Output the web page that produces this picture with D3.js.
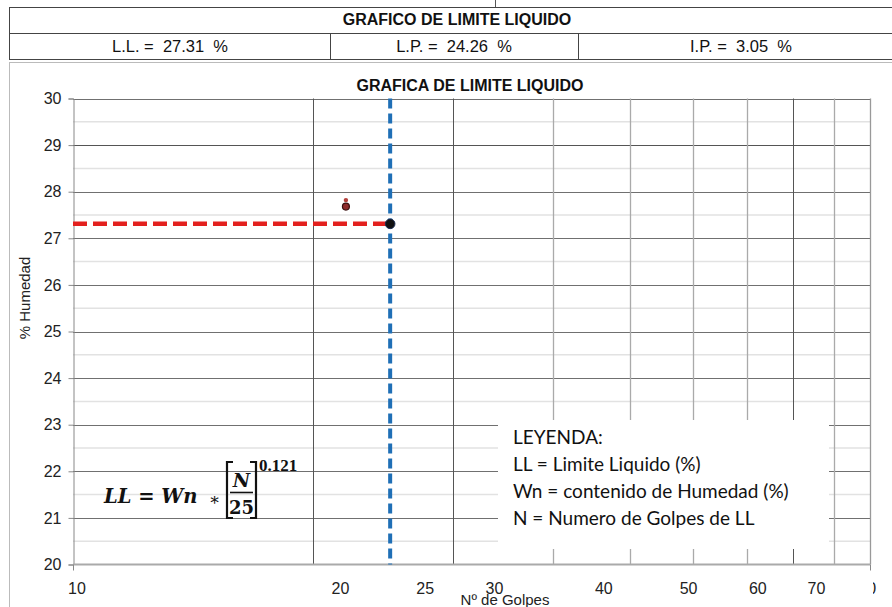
<!DOCTYPE html>
<html><head><meta charset="utf-8">
<script src="https://cdn.jsdelivr.net/npm/d3@7/dist/d3.min.js"></script>
<style>body{margin:0;background:#fff}svg{display:block}</style>
</head><body>
<script>
// ---- data ----
const headerTitle = "GRAFICO DE LIMITE LIQUIDO";
const chartTitle = "GRAFICA DE LIMITE LIQUIDO";
const summaryLabels = ["L.L.", "L.P.", "I.P."];
const summaryValues = ["27.31", "24.26", "3.05"];
const yTickValues = [20, 21, 22, 23, 24, 25, 26, 27, 28, 29, 30];
const yMinorValues = [20.5, 21.5, 22.5, 23.5, 24.5, 25.5, 26.5, 27.5, 28.5, 29.5];
const xGridValues = [20, 30, 40, 50, 60, 70, 80, 90, 100];
const xLabelValues = [10, 20, 25, 30, 40, 50, 60, 70, 80];
const pointN = [22, 22];
const pointW = [27.82, 27.68];
const llN = 25;
const llValue = 27.31;
const legendLines = ["LEYENDA:", "LL = Limite Liquido (%)", "Wn = contenido de Humedad (%)", "N = Numero de Golpes de LL"];
const xTitle = "Nº de Golpes";
const yTitle = "% Humedad";

// ---- drawing ----
const W = 892, H = 607;
const svg = d3.select("body").append("svg").attr("width", W).attr("height", H);
const SANS = "'Liberation Sans', Arial, sans-serif";
const NB = "\u00A0";

// header table
const hdr = svg.append("g");
hdr.append("line").attr("x1", 495.5).attr("x2", 495.5).attr("y1", 0).attr("y2", 7).attr("stroke", "#555");
hdr.append("rect").attr("x", 9.5).attr("y", 7.5).attr("width", 900).attr("height", 26).attr("fill", "none").attr("stroke", "#444");
hdr.append("rect").attr("x", 9.5).attr("y", 33.5).attr("width", 900).attr("height", 26).attr("fill", "none").attr("stroke", "#444");
[330.5, 578.5].forEach(x => hdr.append("line").attr("x1", x).attr("x2", x).attr("y1", 33.5).attr("y2", 59.5).attr("stroke", "#444"));
hdr.append("text").attr("x", 457).attr("y", 25).attr("text-anchor", "middle")
  .attr("font-family", SANS).attr("font-weight", "bold").attr("font-size", 16).attr("fill", "#111").text(headerTitle);
const cellCenters = [170, 454, 741];
summaryLabels.forEach((l, i) => {
  hdr.append("text").attr("x", cellCenters[i]).attr("y", 52).attr("text-anchor", "middle")
    .attr("font-family", SANS).attr("font-size", 16.5).attr("fill", "#111")
    .text(l + NB + "=" + NB + NB + summaryValues[i] + NB + NB + "%");
});

// chart frame
svg.append("rect").attr("x", 9.5).attr("y", 62.5).attr("width", 900).attr("height", 600)
  .attr("fill", "none").attr("stroke", "#bbb");

svg.append("text").attr("x", 470).attr("y", 91).attr("text-anchor", "middle")
  .attr("font-family", SANS).attr("font-weight", "bold").attr("font-size", 16).attr("fill", "#111").text(chartTitle);

// scales
const x = d3.scaleLog().domain([10, 100]).range([73, 870]);
const y = d3.scaleLinear().domain([20, 30]).range([564.5, 98.5]);
const xLab = d3.scaleLog().domain([10, 100]).range([77, 952]);

const g = svg.append("g");
g.selectAll(".hmin").data(yMinorValues).join("line")
  .attr("x1", 73).attr("x2", 870).attr("y1", d => y(d)).attr("y2", d => y(d))
  .attr("stroke", "#e2e2e2").attr("stroke-width", 1.5);
g.selectAll(".hmaj").data(yTickValues.filter(v => v > 20)).join("line")
  .attr("x1", 73).attr("x2", 870).attr("y1", d => Math.round(y(d)) + 0.5).attr("y2", d => Math.round(y(d)) + 0.5)
  .attr("stroke", d => d === 29 ? "#555" : "#707070").attr("stroke-width", 1);
const darkV = new Set([20, 30, 80]);
g.selectAll(".vg").data(xGridValues).join("line")
  .attr("x1", d => Math.round(x(d)) + 0.5).attr("x2", d => Math.round(x(d)) + 0.5)
  .attr("y1", y(30)).attr("y2", y(20))
  .attr("stroke", d => darkV.has(d) ? "#555" : (d === 100 ? "#999" : "#aaa"))
  .attr("stroke-width", d => darkV.has(d) ? 1 : 1.3);

// legend box (covers gridlines)
svg.append("rect").attr("x", 498).attr("y", 420).attr("width", 331).attr("height", 129).attr("fill", "#fff");
legendLines.forEach((t, i) => {
  svg.append("text").attr("x", 513).attr("y", 444 + i * 27)
    .attr("font-family", "Lato, 'Open Sans', sans-serif").attr("font-size", 19).attr("fill", "#111").text(t);
});

// axes
const yAxis = d3.axisLeft(y).tickValues(yTickValues).tickSize(5).tickPadding(7).tickFormat(d3.format("d"));
const ya = svg.append("g").attr("transform", "translate(73.5,0)").call(yAxis);
ya.select(".domain").attr("stroke", "#888");
ya.selectAll(".tick line").attr("stroke", "#888");
ya.selectAll(".tick text").attr("font-family", SANS).attr("font-size", 16).attr("fill", "#222");

const xa = svg.append("g").attr("transform", "translate(0,564.5)");
xa.append("line").attr("x1", 73).attr("x2", 870).attr("stroke", "#aaa").attr("stroke-width", 2);
[10, 100].forEach(v => xa.append("line").attr("x1", Math.round(x(v)) + 0.5).attr("x2", Math.round(x(v)) + 0.5)
  .attr("y1", 0).attr("y2", 6).attr("stroke", "#888"));

const clip = svg.append("clipPath").attr("id", "labclip");
clip.append("rect").attr("x", 0).attr("y", 560).attr("width", 835).attr("height", 47);
clip.append("rect").attr("x", 873).attr("y", 560).attr("width", 30).attr("height", 47);
svg.append("g").attr("clip-path", "url(#labclip)").selectAll("text").data(xLabelValues).join("text")
  .attr("x", d => xLab(d)).attr("y", 594).attr("text-anchor", "middle")
  .attr("font-family", SANS).attr("font-size", 16).attr("fill", "#222").text(d => d);

svg.append("text").attr("x", 505).attr("y", 605).attr("text-anchor", "middle")
  .attr("font-family", SANS).attr("font-size", 15).attr("fill", "#222").text(xTitle);
svg.append("text").attr("transform", "translate(30,298) rotate(-90)").attr("text-anchor", "middle")
  .attr("font-family", SANS).attr("font-size", 15).attr("fill", "#222").text(yTitle);

// formula
const SERIF = "'DejaVu Serif', 'Liberation Serif', serif";
const fm = svg.append("g").attr("font-family", SERIF).attr("font-weight", "bold").attr("fill", "#111");
fm.append("text").attr("x", 104).attr("y", 503).attr("font-size", 19.5).attr("font-style", "italic")
  .text("LL" + NB + "=" + NB + "Wn");
fm.append("text").attr("x", 209).attr("y", 505).attr("font-size", 17).attr("font-weight", "normal").text("∗");
fm.append("path").attr("d", "M233,462 L227,462 L227,518 L233,518").attr("fill", "none").attr("stroke", "#111").attr("stroke-width", 2.2);
fm.append("path").attr("d", "M250,462 L256,462 L256,518 L250,518").attr("fill", "none").attr("stroke", "#111").attr("stroke-width", 2.2);
fm.append("text").attr("x", 241.5).attr("y", 487).attr("text-anchor", "middle").attr("font-size", 19).attr("font-style", "italic").text("N");
fm.append("line").attr("x1", 230).attr("x2", 253).attr("y1", 492.5).attr("y2", 492.5).attr("stroke", "#111").attr("stroke-width", 1.6);
fm.append("text").attr("x", 241.5).attr("y", 514).attr("text-anchor", "middle").attr("font-size", 18).text("25");
fm.append("text").attr("x", 259).attr("y", 471).attr("font-size", 17).attr("font-family", "'Liberation Serif', serif").text("0.121");

// dashed reference lines
svg.append("line").attr("x1", x(10)).attr("x2", x(llN)).attr("y1", y(llValue)).attr("y2", y(llValue))
  .attr("stroke", "#e3201e").attr("stroke-width", 4.5).attr("stroke-dasharray", "14,6");
svg.append("line").attr("x1", x(llN)).attr("x2", x(llN)).attr("y1", y(30)).attr("y2", y(20))
  .attr("stroke", "#1f6fb6").attr("stroke-width", 4).attr("stroke-dasharray", "10,5");

// points
svg.append("circle").attr("cx", x(pointN[0])).attr("cy", y(pointW[0])).attr("r", 2.2).attr("fill", "#b3403c");
svg.append("circle").attr("cx", x(pointN[1])).attr("cy", y(pointW[1])).attr("r", 3.5).attr("fill", "#8e2b2b").attr("stroke", "#3a1010").attr("stroke-width", 1.2);
svg.append("circle").attr("cx", x(llN)).attr("cy", y(llValue)).attr("r", 4.8).attr("fill", "#111").attr("stroke", "#1a2a50").attr("stroke-width", 1);
</script>
</body></html>
